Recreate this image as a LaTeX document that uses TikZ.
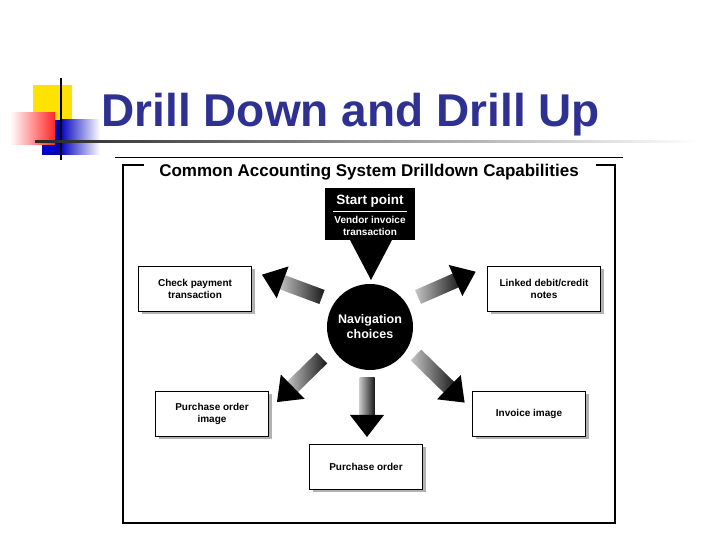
\documentclass[tikz,border=0pt]{standalone}
\usepackage{fontspec}
\setmainfont{Liberation Sans}
\definecolor{ttl}{HTML}{2E3192}
\begin{document}
\begin{tikzpicture}[x=1pt,y=1pt,
  obox/.style={draw=black,line width=1.6pt,fill=white,minimum width=113pt,minimum height=45pt,align=center,font=\bfseries\fontsize{10}{11.5}\selectfont},
  shadowbox/.style={fill=gray!60,minimum width=113pt,minimum height=45pt}]
\useasboundingbox (0,0) rectangle (720,540);
% decoration
\fill[yellow!85!orange] (33,455) rectangle (72,420);
\shade[left color=blue!75!black,right color=white] (60,420) rectangle (100,385);
\fill[blue!75!black] (42,420) rectangle (61,385);
\shade[left color=white,right color=red!85] (10,427) rectangle (55,395);
\draw[line width=1.5pt] (61,462) -- (61,380);
\shade[left color=black!85,right color=white] (35,397) rectangle (700,399.5);
\node[font=\bfseries\fontsize{46}{48}\selectfont,text=ttl,anchor=base west] (title) at (98,413) {Drill Down and Drill Up};
\draw[line width=0.6pt] (115,383) -- (623,383);
% frame
\draw[line width=1.2pt] (144,375) -- (123,375) -- (123,17) -- (615,17) -- (615,375) -- (596,375);
\node[font=\bfseries\fontsize{17}{19}\selectfont] (sub) at (369,368) {Common Accounting System Drilldown Capabilities};
% start box
\node[fill=black,minimum width=90pt,minimum height=52pt] (start) at (370,326) {};
\node[text=white,font=\bfseries\fontsize{13.5}{15}\selectfont] (st1) at (370,339) {Start point};
\draw[white,line width=0.5pt] (333,329) -- (407,329);
\node[text=white,align=center,font=\bfseries\fontsize{10}{11.5}\selectfont] (st2) at (370,314) {Vendor invoice\\transaction};
\fill (350,300) -- (392,300) -- (371,260) -- cycle;
% circle
\node[circle,fill=black,minimum size=86pt,text=white,align=center,font=\bfseries\fontsize{12.5}{15}\selectfont] (nav) at (370,213) {Navigation\\choices};
% boxes
\foreach \n/\x/\y/\t in {a/195/251/{Check payment\\transaction},b/544/251/{Linked debit/credit\\notes},c/212/126/{Purchase order\\image},d/529/126/{Invoice image},e/366/73/{Purchase order}}{
  \node[shadowbox] at (\x+3,\y-3) {};
  \node[obox] (\n) at (\x,\y) {\t};
}
% arrows
\newcommand\farrow[4]{\begin{scope}[shift={(#1,#2)},rotate=#3]
 \shade[left color=gray!45,right color=black!90] (0,-7.5) rectangle (#4-20,7.5);
 \fill (#4-22,-17) -- (#4,0) -- (#4-22,17) -- cycle;
\end{scope}}
\farrow{322}{243}{159.6}{64}
\farrow{418}{243}{23.7}{63}
\farrow{322}{182}{-135.6}{63}
\farrow{416}{185}{-44.4}{68}
\farrow{367}{162}{-90}{59}
\end{tikzpicture}
\end{document}
